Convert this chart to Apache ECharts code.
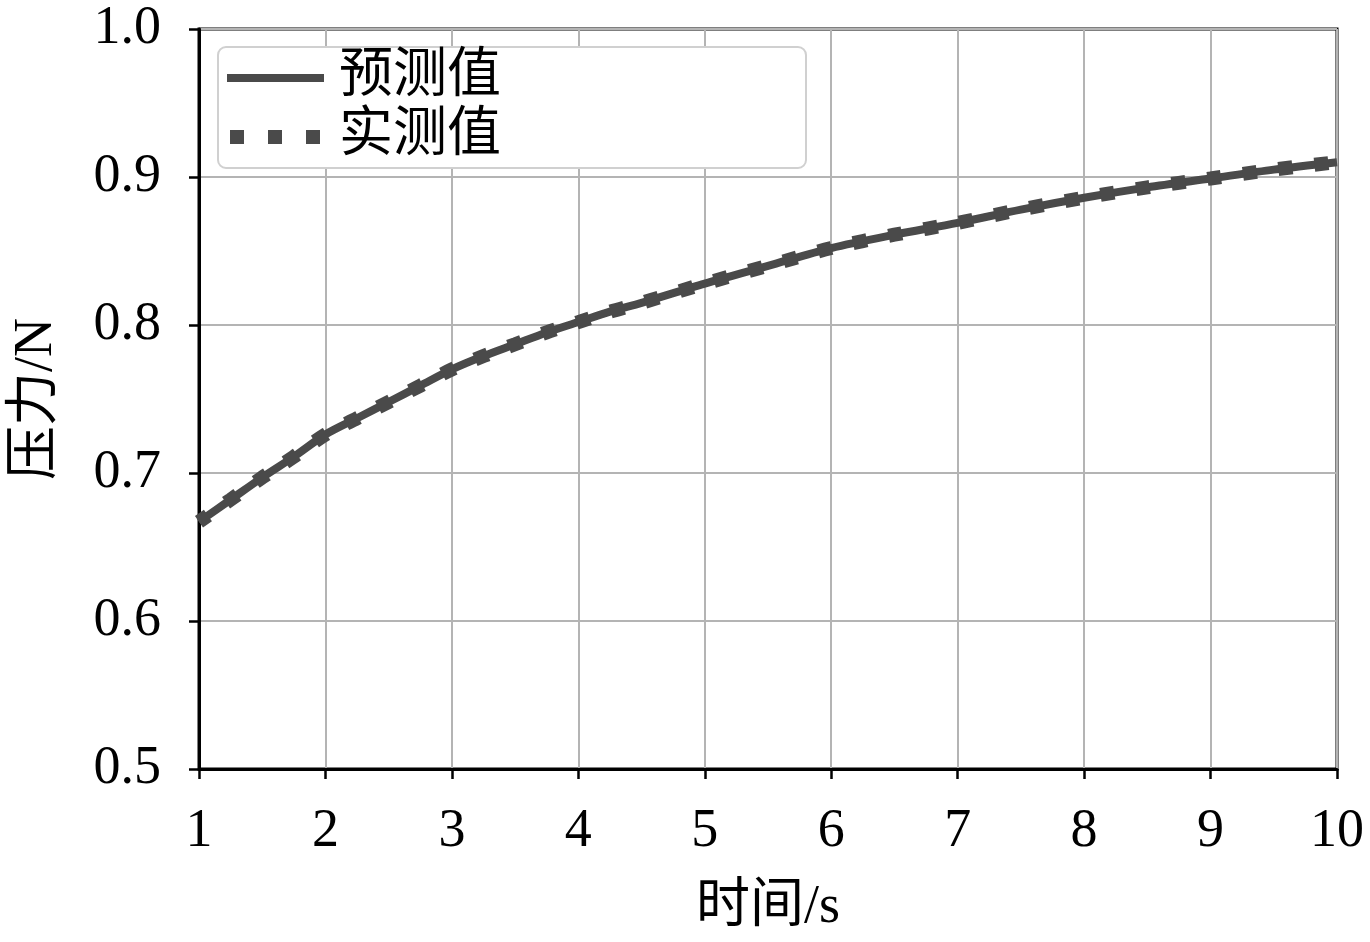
<!DOCTYPE html>
<html>
<head>
<meta charset="utf-8">
<script src="https://cdn.jsdelivr.net/npm/echarts@6/dist/echarts.min.js"></script>
<style>
  html, body { margin: 0; padding: 0; background: #fff; }
  #chart { width: 1370px; height: 942px; }
</style>
</head>
<body>
<div id="chart"></div>
<script>
// 时间 / 压力 数据
var times = [1, 1.25, 1.5, 1.75, 2, 2.25, 2.5, 2.75, 3, 3.25, 3.5, 3.75, 4, 4.25, 4.5, 5, 5.5, 6, 6.5, 7, 7.5, 8, 8.5, 9, 9.5, 10];
var predicted = [0.667, 0.682, 0.697, 0.711, 0.726, 0.737, 0.748, 0.759, 0.770, 0.779, 0.787, 0.795, 0.802, 0.809, 0.815, 0.828, 0.840, 0.852, 0.861, 0.869, 0.878, 0.886, 0.893, 0.899, 0.905, 0.910];
var measured = [0.667, 0.682, 0.697, 0.711, 0.726, 0.737, 0.748, 0.759, 0.770, 0.779, 0.787, 0.795, 0.802, 0.809, 0.815, 0.828, 0.840, 0.852, 0.861, 0.869, 0.878, 0.886, 0.893, 0.899, 0.905, 0.910];
var seriesNames = ['预测值', '实测值'];

function pairs(xs, ys) {
    var res = [];
    for (var i = 0; i < xs.length; i++) {
        res.push([xs[i], ys[i]]);
    }
    return res;
}

var font = '"Liberation Serif", "Noto Sans CJK SC", serif';
var lineColor = '#4a4a4a';

// 图例图标: 实线 / 方点
var solidIcon = 'path://M0,0L97,0L97,0Z M0,3.5h97v8h-97z M0,15L97,15L97,15Z';
var dotIcon = 'path://M0,0L97,0L97,0Z M3,0.5h14v14h-14z M41,0.5h14v14h-14z M79,0.5h14v14h-14z M0,15L97,15L97,15Z';

var myChart = echarts.init(document.getElementById('chart'));
var option = {
    backgroundColor: '#fff',
    animation: false,
    grid: {
        left: 199,
        right: 33,
        top: 29,
        bottom: 173,
        outerBoundsMode: 'none',
        containLabel: false,
        show: true,
        borderColor: '#000',
        borderWidth: 3
    },
    legend: {
        orient: 'vertical',
        left: 218,
        top: 47,
        itemWidth: 97,
        itemHeight: 15,
        itemGap: 5,
        padding: [4, 305, 4, 9],
        backgroundColor: '#fff',
        borderColor: '#d0d0d0',
        borderWidth: 2,
        borderRadius: 8,
        itemStyle: { borderWidth: 0 },
        textStyle: { fontFamily: font, fontSize: 54, color: '#000', padding: [0, 0, 0, 10] },
        data: [
            { name: seriesNames[0], icon: solidIcon },
            { name: seriesNames[1], icon: dotIcon }
        ]
    },
    xAxis: {
        type: 'value',
        min: 1,
        max: 10,
        interval: 1,
        name: '时间/s',
        nameLocation: 'middle',
        nameGap: 112,
        nameTextStyle: { fontFamily: font, fontSize: 54, color: '#000' },
        axisLine: { lineStyle: { color: '#000', width: 3 } },
        axisTick: { show: true, length: 10, lineStyle: { color: '#000', width: 2.5 } },
        axisLabel: { fontFamily: font, fontSize: 54, color: '#000', margin: 36 },
        splitLine: { show: true, lineStyle: { color: '#b4b4b4', width: 2 } }
    },
    yAxis: {
        type: 'value',
        min: 0.5,
        max: 1.0,
        interval: 0.1,
        name: '压力/N',
        nameLocation: 'middle',
        nameGap: 135,
        nameTextStyle: { fontFamily: font, fontSize: 54, color: '#000' },
        axisLine: { show: true, lineStyle: { color: '#000', width: 3 } },
        axisTick: { show: true, length: 10, lineStyle: { color: '#000', width: 2.5 } },
        axisLabel: {
            fontFamily: font, fontSize: 54, color: '#000', margin: 38,
            formatter: function (v) { return v.toFixed(1); }
        },
        splitLine: { show: true, lineStyle: { color: '#b4b4b4', width: 2 } }
    },
    series: [
        {
            name: seriesNames[0],
            type: 'line',
            smooth: 0.3,
            symbol: 'none',
            data: pairs(times, predicted),
            lineStyle: { color: lineColor, width: 8 },
            itemStyle: { color: lineColor }
        },
        {
            name: seriesNames[1],
            type: 'line',
            smooth: 0.3,
            symbol: 'none',
            data: pairs(times, measured),
            lineStyle: { color: lineColor, width: 14, type: [14, 22], dashOffset: 3, cap: 'butt' },
            itemStyle: { color: lineColor }
        }
    ]
};
myChart.setOption(option);
window.addEventListener('resize', function () {
    myChart.resize();
});
</script>
</body>
</html>
